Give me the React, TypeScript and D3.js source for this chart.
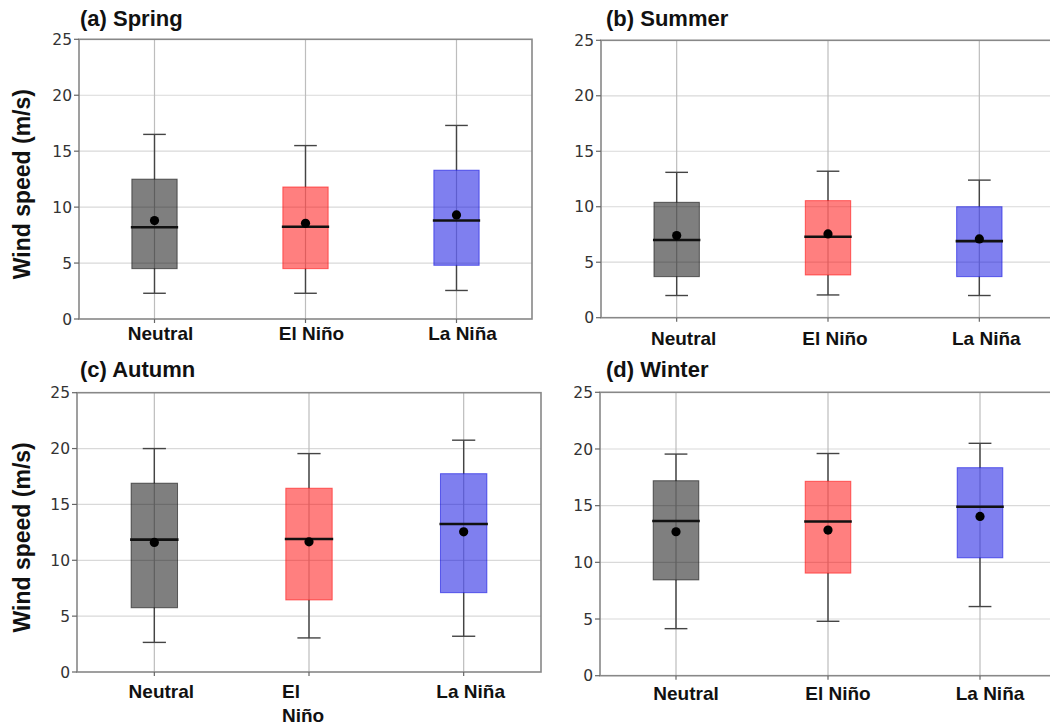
import React from "react";
import * as d3 from "d3";

const categories = ["Neutral", "El Niño", "La Niña"];
const yTicks = [0, 5, 10, 15, 20, 25];
const gridTicks = [5, 10, 15, 20];
const titles = ["(a) Spring", "(b) Summer", "(c) Autumn", "(d) Winter"];
const yAxisTitle = "Wind speed (m/s)";

// each row: [lower whisker, Q1, median, Q3, upper whisker, mean]
const spring = [
  [2.3, 4.5, 8.2, 12.5, 16.5, 8.8],
  [2.3, 4.5, 8.25, 11.8, 15.5, 8.55],
  [2.55, 4.8, 8.8, 13.3, 17.3, 9.3],
];
const summer = [
  [2.0, 3.7, 7.0, 10.4, 13.1, 7.4],
  [2.05, 3.85, 7.3, 10.55, 13.2, 7.55],
  [2.0, 3.7, 6.9, 10.0, 12.4, 7.1],
];
const autumn = [
  [2.65, 5.75, 11.85, 16.9, 20.0, 11.6],
  [3.05, 6.45, 11.9, 16.45, 19.55, 11.65],
  [3.2, 7.1, 13.25, 17.75, 20.75, 12.55],
];
const winter = [
  [4.15, 8.45, 13.65, 17.2, 19.55, 12.7],
  [4.8, 9.05, 13.6, 17.15, 19.6, 12.85],
  [6.1, 10.4, 14.9, 18.35, 20.5, 14.05],
];
const seasons = [spring, summer, autumn, winter];

const boxColors = ["#000000", "#ff0000", "#0000e0"];

const layouts = [
  { left: 79, right: 532, top: 39.3, bottom: 319, titleX: 80, titleY: 26, labelY: 340, labelDx: 6, yLabel: true, wrap: false },
  { left: 601, right: 1055, top: 40.3, bottom: 317.7, titleX: 606, titleY: 26, labelY: 345, labelDx: 7, yLabel: false, wrap: false },
  { left: 77, right: 541, top: 392.7, bottom: 672, titleX: 80, titleY: 377, labelY: 698, labelDx: 7, yLabel: true, wrap: true },
  { left: 600, right: 1056, top: 392.3, bottom: 675.7, titleX: 606, titleY: 377, labelY: 700, labelDx: 10, yLabel: false, wrap: false },
];

const boldFont = "'Liberation Sans', Arial, Helvetica, sans-serif";
const tickFont = "'DejaVu Sans', sans-serif";

function Panel({ idx }: { idx: number }) {
  const L = layouts[idx];
  const data = seasons[idx];
  const x = d3.scaleLinear().domain([-0.5, 2.5]).range([L.left, L.right]);
  const y = d3.scaleLinear().domain([0, 25]).range([L.bottom, L.top]);
  const step = x(1) - x(0);
  const bw = step * 0.3;
  const cw = bw / 2;
  return (
    <g>
      <text x={L.titleX} y={L.titleY} fontFamily={boldFont} fontWeight="bold" fontSize={22} fill="#111">
        {titles[idx]}
      </text>
      {gridTicks.map((t) => (
        <line key={"h" + t} x1={L.left} x2={L.right} y1={y(t)} y2={y(t)} stroke="#d9d9d9" strokeWidth={1.2} />
      ))}
      {categories.map((c, i) => (
        <line key={"v" + c} x1={x(i)} x2={x(i)} y1={L.top} y2={L.bottom} stroke="#bdbdbd" strokeWidth={1.2} />
      ))}
      {data.map((d, i) => {
        const cx = x(i);
        const [lo, q1, med, q3, hi, mean] = d;
        return (
          <g key={"b" + i}>
            <line x1={cx} x2={cx} y1={y(q3)} y2={y(hi)} stroke="#444" strokeWidth={1.4} />
            <line x1={cx} x2={cx} y1={y(q1)} y2={y(lo)} stroke="#444" strokeWidth={1.4} />
            <line x1={cx - cw / 2} x2={cx + cw / 2} y1={y(hi)} y2={y(hi)} stroke="#444" strokeWidth={1.4} />
            <line x1={cx - cw / 2} x2={cx + cw / 2} y1={y(lo)} y2={y(lo)} stroke="#444" strokeWidth={1.4} />
            <rect
              x={cx - bw / 2}
              y={y(q3)}
              width={bw}
              height={y(q1) - y(q3)}
              fill={boxColors[i]}
              fillOpacity={0.5}
              stroke={boxColors[i]}
              strokeOpacity={0.55}
              strokeWidth={1}
            />
            <line x1={cx - bw / 2 - 1} x2={cx + bw / 2 + 1} y1={y(med)} y2={y(med)} stroke="#111" strokeWidth={2.6} />
            <circle cx={cx} cy={y(mean)} r={4.6} fill="#000" />
          </g>
        );
      })}
      <rect x={L.left} y={L.top} width={L.right - L.left} height={L.bottom - L.top} fill="none" stroke="#888" strokeWidth={1.6} />
      {yTicks.map((t) => (
        <g key={"yt" + t}>
          <line x1={L.left - 5} x2={L.left} y1={y(t)} y2={y(t)} stroke="#666" strokeWidth={1.2} />
          <text x={L.left - 7} y={y(t)} dy="0.36em" textAnchor="end" fontFamily={tickFont} fontSize={15.5} fill="#333">
            {t}
          </text>
        </g>
      ))}
      {categories.map((c, i) => (
        <line key={"xt" + c} x1={x(i)} x2={x(i)} y1={L.bottom} y2={L.bottom + 4} stroke="#666" strokeWidth={1.2} />
      ))}
      {categories.map((c, i) => {
        if (L.wrap && c.includes(" ") && i === 1) {
          const parts = c.split(" ");
          return (
            <text key={"xl" + c} x={x(i) - 27} y={L.labelY} textAnchor="start" fontFamily={boldFont} fontWeight="bold" fontSize={19} fill="#111">
              <tspan x={x(i) - 27} dy={0}>{parts[0]}</tspan>
              <tspan x={x(i) - 27} dy={24}>{parts[1]}</tspan>
            </text>
          );
        }
        return (
          <text key={"xl" + c} x={x(i) + L.labelDx} y={L.labelY} textAnchor="middle" fontFamily={boldFont} fontWeight="bold" fontSize={19} fill="#111">
            {c}
          </text>
        );
      })}
      {L.yLabel && (
        <text
          transform={`translate(30,${(L.top + L.bottom) / 2 + 5}) rotate(-90)`}
          textAnchor="middle"
          fontFamily={boldFont}
          fontWeight="bold"
          fontSize={23}
          fill="#111"
        >
          {yAxisTitle}
        </text>
      )}
    </g>
  );
}

export default function App() {
  return (
    <svg
      width={1050}
      height={725}
      viewBox="0 0 1050 725"
      style={{ position: "absolute", left: 0, top: 0, background: "#fff" }}
    >
      <rect x={0} y={0} width={1050} height={725} fill="#fff" />
      {[0, 1, 2, 3].map((i) => (
        <Panel key={i} idx={i} />
      ))}
    </svg>
  );
}
